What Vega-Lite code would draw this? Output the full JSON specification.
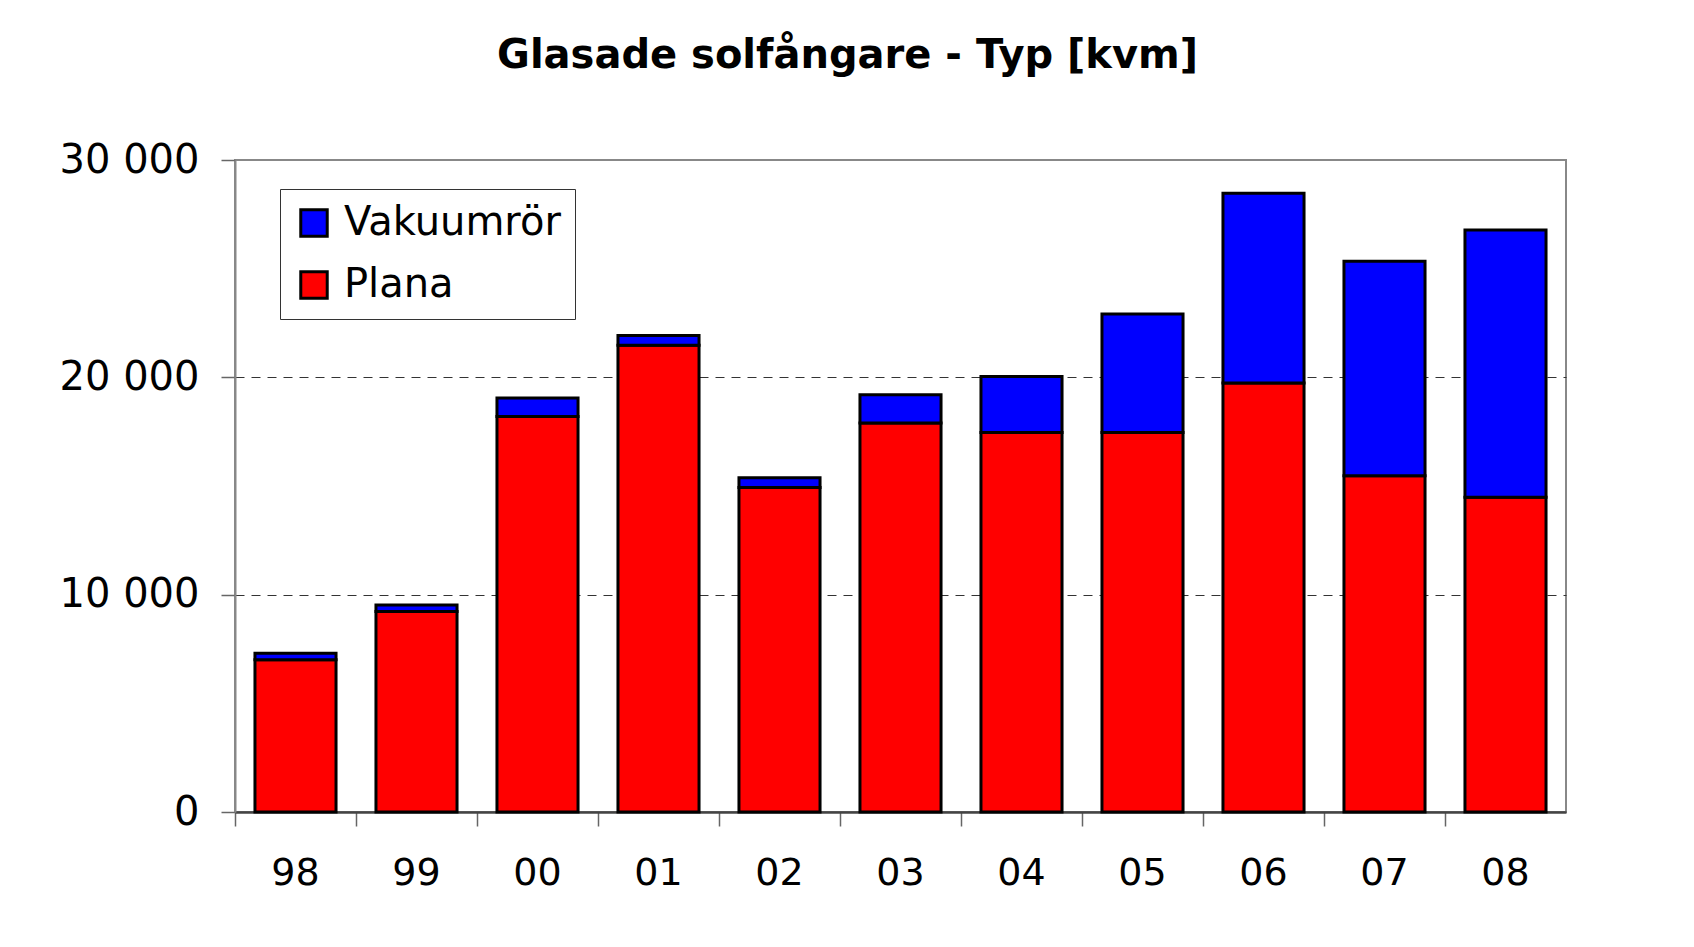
{
  "$schema": "https://vega.github.io/schema/vega-lite/v6.json",
  "autosize": {"type": "none"},
  "width": 1331,
  "height": 652,
  "padding": {"left": 235, "top": 160, "right": 128, "bottom": 135},
  "background": "white",
  "title": {
    "text": "Glasade solfångare - Typ [kvm]",
    "font": "DejaVu Sans",
    "fontSize": 40,
    "fontWeight": "bold",
    "color": "black",
    "anchor": "middle",
    "dx": -53,
    "offset": 64
  },
  "data": {
    "values": [
      {"year": "98", "typ": "Plana", "kvm": 7000},
      {"year": "98", "typ": "Vakuumrör", "kvm": 300},
      {"year": "99", "typ": "Plana", "kvm": 9230},
      {"year": "99", "typ": "Vakuumrör", "kvm": 300},
      {"year": "00", "typ": "Plana", "kvm": 18200},
      {"year": "00", "typ": "Vakuumrör", "kvm": 850},
      {"year": "01", "typ": "Plana", "kvm": 21480},
      {"year": "01", "typ": "Vakuumrör", "kvm": 450},
      {"year": "02", "typ": "Plana", "kvm": 14930},
      {"year": "02", "typ": "Vakuumrör", "kvm": 450},
      {"year": "03", "typ": "Plana", "kvm": 17900},
      {"year": "03", "typ": "Vakuumrör", "kvm": 1300},
      {"year": "04", "typ": "Plana", "kvm": 17460},
      {"year": "04", "typ": "Vakuumrör", "kvm": 2580},
      {"year": "05", "typ": "Plana", "kvm": 17460},
      {"year": "05", "typ": "Vakuumrör", "kvm": 5450},
      {"year": "06", "typ": "Plana", "kvm": 19740},
      {"year": "06", "typ": "Vakuumrör", "kvm": 8730},
      {"year": "07", "typ": "Plana", "kvm": 15475},
      {"year": "07", "typ": "Vakuumrör", "kvm": 9870},
      {"year": "08", "typ": "Plana", "kvm": 14480},
      {"year": "08", "typ": "Vakuumrör", "kvm": 12300}
    ]
  },
  "mark": {"type": "bar", "stroke": "black", "strokeWidth": 3, "width": {"band": 0.67}},
  "encoding": {
    "x": {
      "field": "year",
      "type": "ordinal",
      "sort": null,
      "scale": {"paddingInner": 0, "paddingOuter": 0},
      "axis": {
        "title": null,
        "labelAngle": 0,
        "labelFont": "DejaVu Sans",
        "labelFontSize": 38,
        "labelColor": "black",
        "labelPadding": 28,
        "tickSize": 14,
        "tickColor": "#666",
        "tickWidth": 1.5,
        "bandPosition": 0,
        "domainColor": "#444",
        "domainWidth": 2.5,
        "grid": false
      }
    },
    "y": {
      "field": "kvm",
      "type": "quantitative",
      "aggregate": "sum",
      "stack": "zero",
      "scale": {"domain": [0, 30000], "nice": false},
      "axis": {
        "title": null,
        "values": [0, 10000, 20000, 30000],
        "labelExpr": "replace(format(datum.value, ',d'), ',', ' ')",
        "labelFont": "DejaVu Sans",
        "labelFontSize": 40,
        "labelColor": "black",
        "labelPadding": 22,
        "tickSize": 14,
        "tickColor": "#666",
        "tickWidth": 1.5,
        "domainColor": "#888",
        "domainWidth": 2,
        "grid": true,
        "gridColor": "#333",
        "gridDash": [9, 7],
        "gridWidth": 1,
        "gridOpacity": {"condition": {"test": "datum.value == 30000 || datum.value == 0", "value": 0}, "value": 1}
      }
    },
    "color": {
      "field": "typ",
      "type": "nominal",
      "scale": {"domain": ["Vakuumrör", "Plana"], "range": ["#0000FF", "#FF0000"]},
      "legend": {
        "title": null,
        "orient": "none",
        "legendX": 45,
        "legendY": 29,
        "direction": "vertical",
        "fillColor": "white",
        "strokeColor": "#333",
        "padding": 14,
        "symbolType": "square",
        "symbolSize": 700,
        "symbolStrokeColor": "black",
        "symbolStrokeWidth": 3,
        "symbolOpacity": 1,
        "labelFont": "DejaVu Sans",
        "labelFontSize": 40,
        "labelColor": "black",
        "labelOffset": 10,
        "rowPadding": 22,
        "labelLimit": 400
      }
    },
    "order": {"field": "typ", "sort": "ascending"}
  },
  "config": {
    "view": {"stroke": "#888", "strokeWidth": 2}
  }
}
